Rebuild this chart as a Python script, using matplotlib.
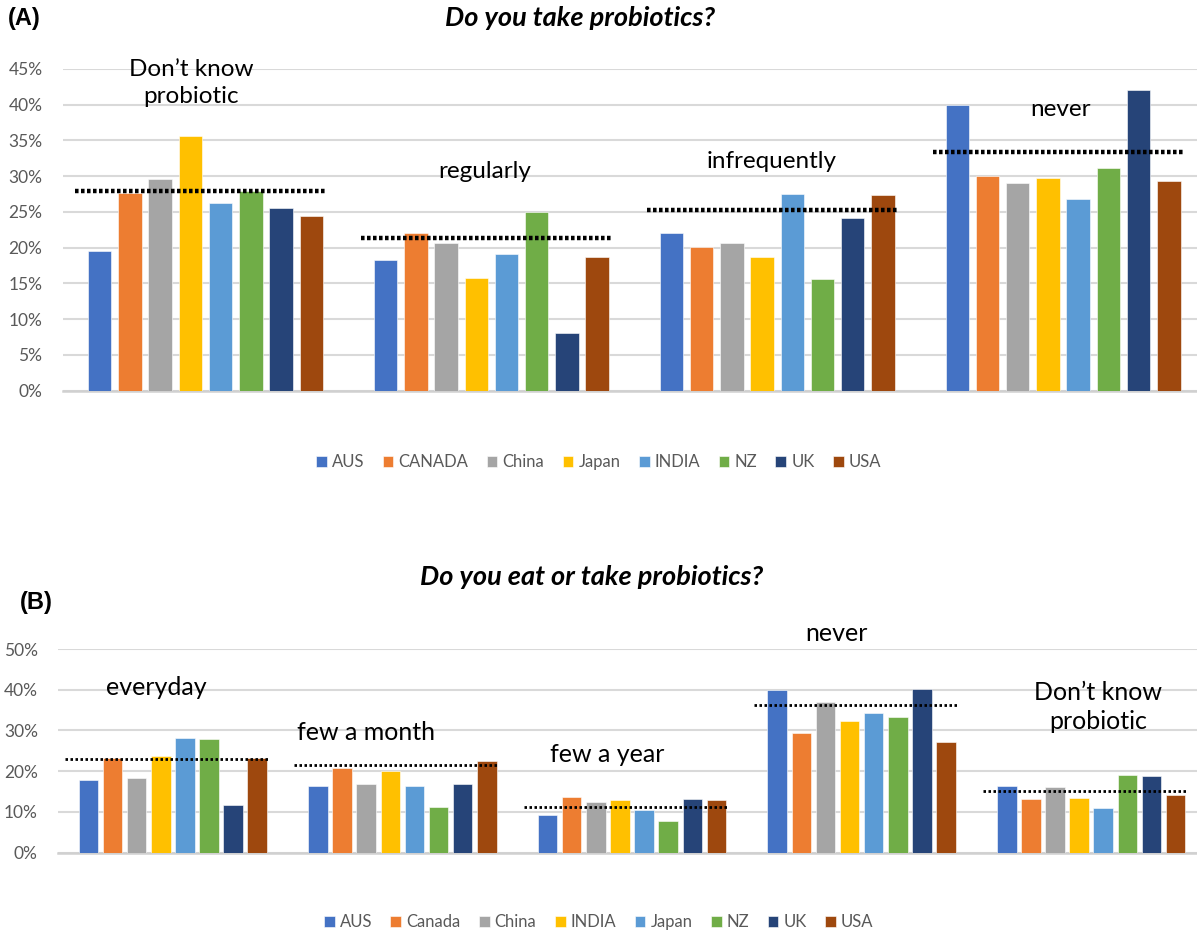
import numpy as np
import matplotlib
matplotlib.use("Agg")
import matplotlib.pyplot as plt
from matplotlib.ticker import FuncFormatter

plt.rcParams['font.family'] = ['Lato', 'DejaVu Sans']

# ---- Panel A: "Do you take probiotics?" ----
cats_a = ["Don\u2019t know\nprobiotic", "regularly", "infrequently", "never"]
countries_a = ["AUS", "CANADA", "China", "Japan", "INDIA", "NZ", "UK", "USA"]
vals_a = {
    "AUS":    [19.5, 18.3, 22.1, 39.9],
    "CANADA": [27.6, 22.1, 20.1, 30.0],
    "China":  [29.6, 20.6, 20.6, 29.1],
    "Japan":  [35.6, 15.7, 18.7, 29.7],
    "INDIA":  [26.3, 19.1, 27.5, 26.8],
    "NZ":     [28.0, 25.0, 15.6, 31.2],
    "UK":     [25.6,  8.1, 24.1, 42.0],
    "USA":    [24.4, 18.7, 27.4, 29.3],
}
avg_a = [27.9, 21.3, 25.3, 33.4]
label_y_a = [43.0, 30.6, 32.0, 39.4]
label_dx_a = [-0.05, -0.025, -0.02, -0.01]

# ---- Panel B: "Do you eat or take probiotics?" ----
cats_b = ["everyday", "few a month", "few a year", "never", "Don\u2019t know\nprobiotic"]
countries_b = ["AUS", "Canada", "China", "INDIA", "Japan", "NZ", "UK", "USA"]
vals_b = {
    "AUS":    [17.8, 16.3,  9.3, 39.9, 16.4],
    "Canada": [23.2, 20.8, 13.7, 29.5, 13.3],
    "China":  [18.4, 16.9, 12.4, 36.9, 16.2],
    "INDIA":  [23.8, 20.0, 12.9, 32.3, 13.4],
    "Japan":  [28.2, 16.3, 10.4, 34.2, 11.0],
    "NZ":     [28.0, 11.3,  7.9, 33.2, 19.1],
    "UK":     [11.7, 16.8, 13.2, 40.3, 18.8],
    "USA":    [23.2, 22.5, 12.9, 27.1, 14.2],
}
avg_b = [23.0, 21.6, 11.3, 36.2, 15.1]
label_y_b = [40.5, 29.4, 24.0, 53.9, 35.8]
label_dx_b = [-0.07, -0.16, -0.11, -0.11, 0.03]

palette = ["#4472C4", "#ED7D31", "#A5A5A5", "#FFC000",
           "#5B9BD5", "#70AD47", "#264478", "#9E480E"]

W, H = 1197, 933
fig = plt.figure(figsize=(W / 100, H / 100), dpi=100)


def px_axes(left, right, top, bottom):
    return fig.add_axes([left / W, 1 - bottom / H, (right - left) / W, (bottom - top) / H])


def draw_panel(ax, cats, countries, vals, avg, ymax, ystep, label_y, label_dx,
               step, width, dot_lw, dot_style, avg_span, label_size):
    n = len(countries)
    x = np.arange(len(cats))
    for i, c in enumerate(countries):
        off = (i - (n - 1) / 2) * step
        ax.bar(x + off, vals[c], width=width, color=palette[i], label=c, zorder=3,
               edgecolor="white", linewidth=0.4)
    for xi, a in zip(x, avg):
        ax.plot([xi + avg_span[0], xi + avg_span[1]], [a, a], color="black",
                linewidth=dot_lw, linestyle=dot_style, zorder=4)
    for xi, txt, ly, dx in zip(x, cats, label_y, label_dx):
        ax.text(xi + dx, ly, txt, ha="center", va="center", fontsize=label_size,
                color="black", zorder=5, linespacing=1.35)
    ax.set_ylim(0, ymax)
    ax.set_yticks(np.arange(0, ymax + 0.01, ystep))
    ax.yaxis.set_major_formatter(FuncFormatter(lambda v, p: f"{v:.0f}%"))
    ax.set_xticks([])
    ax.grid(axis="y", color="#D9D9D9", linewidth=1.5, zorder=0)
    for s in ["top", "right", "left"]:
        ax.spines[s].set_visible(False)
    ax.spines["bottom"].set_color("#D0D0D0")
    ax.spines["bottom"].set_linewidth(1.8)
    ax.tick_params(axis="y", length=0, pad=14.5, labelsize=12.5, labelcolor="#595959")


# Panel A
ax1 = px_axes(62.6, 1206, 69, 390.7)
draw_panel(ax1, cats_a, countries_a, vals_a, avg_a, 45, 5, label_y_a, label_dx_a,
           step=0.1057, width=0.082, dot_lw=3.2, dot_style=(0, (0.8, 0.55)),
           avg_span=(-0.455, 0.425), label_size=17.5)
ax1.set_xlim(-0.5, 3.5)

# Panel B
ax2 = px_axes(58, 1206, 649, 852.7)
draw_panel(ax2, cats_b, countries_b, vals_b, avg_b, 50, 10, label_y_b, label_dx_b,
           step=0.105, width=0.085, dot_lw=2.0, dot_style=(0, (0.9, 0.9)),
           avg_span=(-0.47, 0.42), label_size=18)
ax2.set_xlim(-0.5, 4.5)

# Titles and panel tags
fig.text(580 / W, 1 - 18 / H, "Do you take probiotics?", ha="center", va="center",
         fontsize=19.5, fontweight="bold", fontstyle="italic")
fig.text(592 / W, 1 - 577 / H, "Do you eat or take probiotics?", ha="center", va="center",
         fontsize=19.5, fontweight="bold", fontstyle="italic")
fig.text(8 / W, 1 - 18 / H, "(A)", ha="left", va="center", fontsize=17,
         fontweight="bold", family=["Liberation Sans", "DejaVu Sans"])
fig.text(20 / W, 1 - 602 / H, "(B)", ha="left", va="center", fontsize=17,
         fontweight="bold", family=["Liberation Sans", "DejaVu Sans"])

# Legends
leg_kw = dict(loc="center", ncol=8, frameon=False, fontsize=12,
              handlelength=0.65, handleheight=0.65, handletextpad=0.3,
              columnspacing=1.1, labelcolor="#595959")
h1, l1 = ax1.get_legend_handles_labels()
fig.legend(h1, l1, bbox_to_anchor=(0.5, 1 - 462 / H), **leg_kw)
h2, l2 = ax2.get_legend_handles_labels()
fig.legend(h2, l2, bbox_to_anchor=(0.5, 1 - 922 / H), **leg_kw)

fig.savefig("out.png", dpi=100, facecolor="white")
